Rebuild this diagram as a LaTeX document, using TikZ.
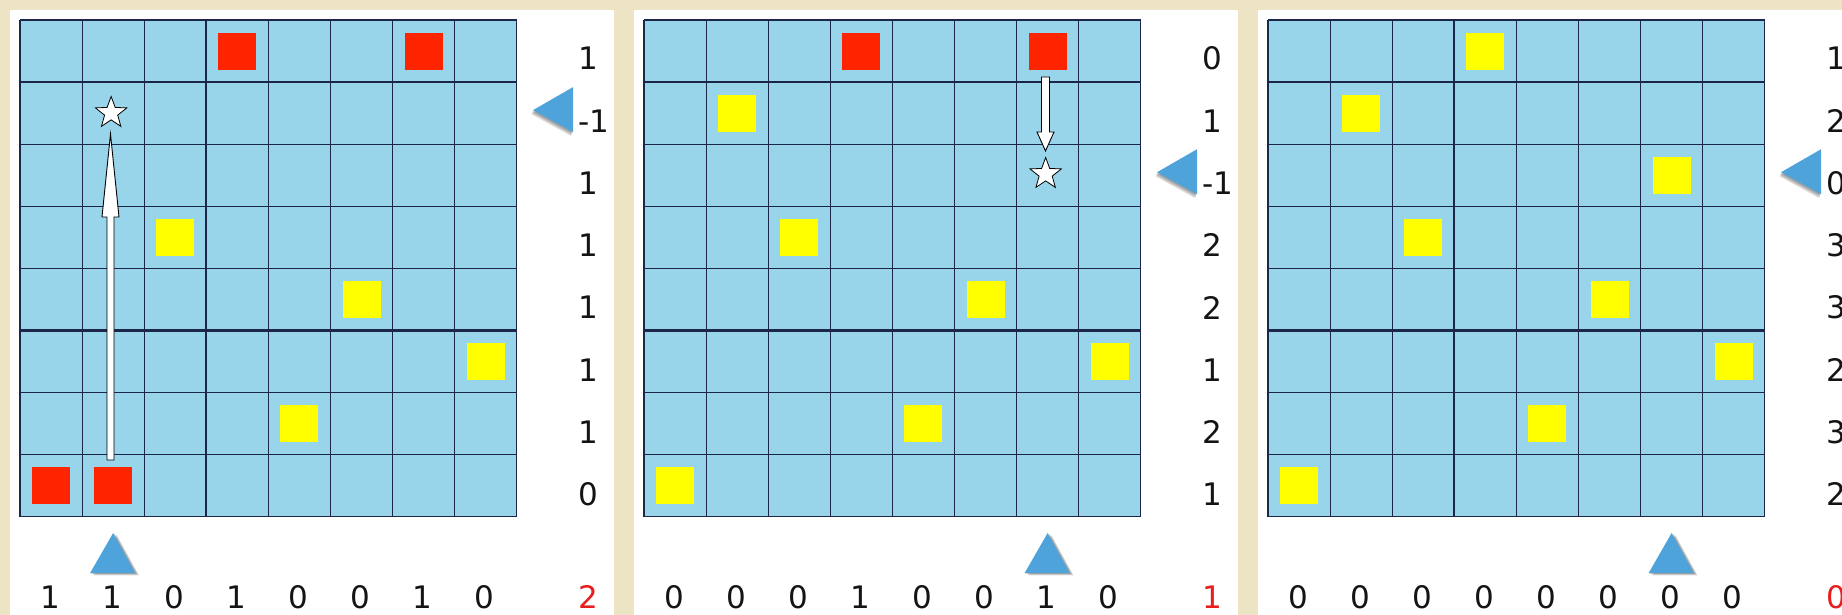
\documentclass[tikz,border=0pt]{standalone}
\usepackage{fontspec}
\setmainfont{DejaVu Sans}
\usetikzlibrary{shapes.geometric}
\definecolor{bgbeige}{RGB}{237,228,198}
\definecolor{cellblue}{RGB}{152,212,234}
\definecolor{gridnavy}{RGB}{28,38,72}
\definecolor{sqred}{RGB}{255,36,0}
\definecolor{sqyellow}{RGB}{255,255,0}
\definecolor{triblue}{RGB}{78,163,219}
\definecolor{lblblack}{RGB}{20,20,20}
\definecolor{lblred}{RGB}{232,30,30}
\tikzset{
  redsq/.style={fill=sqred, minimum width=38pt, minimum height=37pt, inner sep=0pt, draw=none},
  yelsq/.style={fill=sqyellow, minimum width=38pt, minimum height=37pt, inner sep=0pt, draw=none},
  lbl/.style={font=\fontsize{31}{31}\selectfont, text=lblblack, inner sep=0pt},
  sumlbl/.style={lbl, text=lblred, anchor=west},
  starmark/.style={star, star points=5, star point ratio=2.4, minimum size=33pt, inner sep=0pt, fill=white, draw=black, line width=0.8pt},
  gridln/.style={draw=gridnavy, line width=1.2pt},
  gridthick/.style={draw=gridnavy, line width=2.2pt},
  blockarrow/.style={fill=white, draw=black, line width=0.9pt, line join=miter},
  pointer/.style={fill=triblue},
  pshadow/.style={fill=black, opacity=0.14},
  panelbg/.style={fill=white},
}
\newcommand{\panelgrid}{%
  \fill[panelbg] (10,10.5) rectangle (614,620);
  \fill[cellblue] (20,20) rectangle (516.8,516.8);
  \foreach \k in {0,...,8} {
    \draw[gridln] ({20+62.1*\k},20) -- ({20+62.1*\k},516.8);
    \draw[gridln] (20,{20+62.1*\k}) -- (516.8,{20+62.1*\k});
  }
  \draw[gridthick] (20,{20+62.1*5}) -- (516.8,{20+62.1*5});
}
\newcommand{\uptri}[1]{%
  \foreach \s in {1,2,3} {
    \fill[pshadow] ({20+62.1*(#1-0.5)+1.3*\s},{533+0.8*\s}) -- ({20+62.1*(#1-0.5)+22+1.3*\s},{573+0.8*\s}) -- ({20+62.1*(#1-0.5)-23+1.3*\s},{573+0.8*\s}) -- cycle;
  }
  \fill[pointer] ({20+62.1*(#1-0.5)},533) -- ({20+62.1*(#1-0.5)+22},573) -- ({20+62.1*(#1-0.5)-23},573) -- cycle;
}
\newcommand{\sidetri}[1]{%
  \foreach \s in {1,2,3} {
    \fill[pshadow] ({533-0.6*\s},{20+62.1*(#1-0.5)-3+1.3*\s}) -- ({573-0.6*\s},{20+62.1*(#1-0.5)-26+1.3*\s}) -- ({573-0.6*\s},{20+62.1*(#1-0.5)+19+1.3*\s}) -- cycle;
  }
  \fill[pointer] (533,{20+62.1*(#1-0.5)-3}) -- (573,{20+62.1*(#1-0.5)-26}) -- (573,{20+62.1*(#1-0.5)+19}) -- cycle;
}
\begin{document}
\begin{tikzpicture}[x=1pt,y=-1pt]
\useasboundingbox (0,0) rectangle (1842,615);
\clip (0,0) rectangle (1842,615);
\fill[bgbeige] (0,0) rectangle (1842,615);

% ---------------- panel 1 ----------------
\begin{scope}
  \panelgrid
  \draw[gridthick] ({20+62.1*3},20) -- ({20+62.1*3},516.8);
  \foreach \c/\r in {4/1,7/1,1/8,2/8}
    \node[redsq] (p1r\c\r) at ({20+62.1*(\c-0.5)},{20+62.1*(\r-0.5)}) {};
  \foreach \c/\r in {3/4,6/5,8/6,5/7}
    \node[yelsq] (p1y\c\r) at ({20+62.1*(\c-0.5)},{20+62.1*(\r-0.5)}) {};
  \node[starmark] (p1star) at ({20+62.1*1.5-2},113) {};
  \draw[blockarrow] (107,460) -- (107,217) -- (102,217) -- (110.5,134) -- (119,217) -- (114,217) -- (114,460) -- cycle;
  \foreach \v [count=\i] in {1,-1,1,1,1,1,1,0}
    \node[lbl, anchor=west] (p1row\i) at (578,{20+62.25*(\i-0.5)+7.5}) {\v};
  \foreach \v [count=\j] in {1,1,0,1,0,0,1,0}
    \node[lbl] (p1col\j) at ({20+62.1*(\j-0.5)-1},597) {\v};
  \node[sumlbl] (p1sum) at (578,597) {2};
  \sidetri{2}
  \uptri{2}
\end{scope}

% ---------------- panel 2 ----------------
\begin{scope}[shift={(624,0)}]
  \panelgrid
  \foreach \c/\r in {4/1,7/1}
    \node[redsq] (p2r\c\r) at ({20+62.1*(\c-0.5)},{20+62.1*(\r-0.5)}) {};
  \foreach \c/\r in {2/2,3/4,6/5,8/6,5/7,1/8}
    \node[yelsq] (p2y\c\r) at ({20+62.1*(\c-0.5)},{20+62.1*(\r-0.5)}) {};
  \node[starmark] (p2star) at ({20+62.1*6.5-2},174) {};
  \draw[blockarrow] (417.5,77) -- (417.5,132) -- (413,132) -- (421.5,151) -- (430,132) -- (425.5,132) -- (425.5,77) -- cycle;
  \foreach \v [count=\i] in {0,1,-1,2,2,1,2,1}
    \node[lbl, anchor=west] (p2row\i) at (578,{20+62.25*(\i-0.5)+7.5}) {\v};
  \foreach \v [count=\j] in {0,0,0,1,0,0,1,0}
    \node[lbl] (p2col\j) at ({20+62.1*(\j-0.5)-1},597) {\v};
  \node[sumlbl] (p2sum) at (578,597) {1};
  \sidetri{3}
  \uptri{7}
\end{scope}

% ---------------- panel 3 ----------------
\begin{scope}[shift={(1248,0)}]
  \panelgrid
  \draw[gridthick] ({20+62.1*3},20) -- ({20+62.1*3},516.8);
  \foreach \c/\r in {4/1,2/2,7/3,3/4,6/5,8/6,5/7,1/8}
    \node[yelsq] (p3y\c\r) at ({20+62.1*(\c-0.5)},{20+62.1*(\r-0.5)}) {};
  \foreach \v [count=\i] in {1,2,0,3,3,2,3,2}
    \node[lbl, anchor=west] (p3row\i) at (578,{20+62.25*(\i-0.5)+7.5}) {\v};
  \foreach \v [count=\j] in {0,0,0,0,0,0,0,0}
    \node[lbl] (p3col\j) at ({20+62.1*(\j-0.5)-1},597) {\v};
  \node[sumlbl] (p3sum) at (578,597) {0};
  \sidetri{3}
  \uptri{7}
\end{scope}
\end{tikzpicture}
\end{document}
